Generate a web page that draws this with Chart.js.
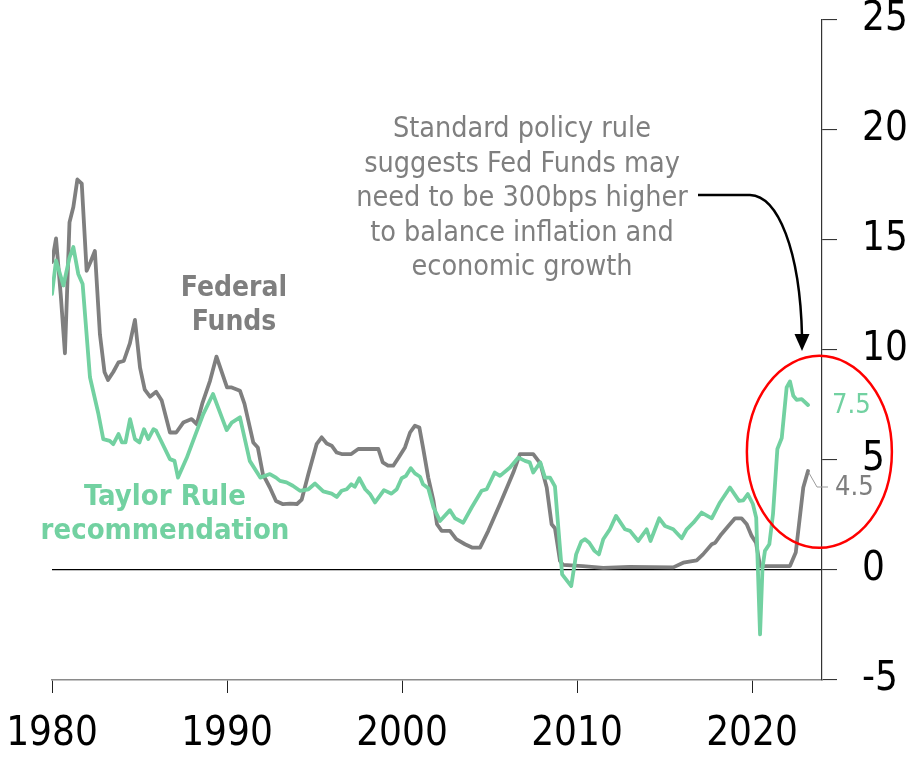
<!DOCTYPE html>
<html>
<head>
<meta charset="utf-8">
<script src="https://cdn.jsdelivr.net/npm/chart.js@4.4.1/dist/chart.umd.min.js"></script>
<style>
  html, body { margin: 0; padding: 0; background: #fff; }
  #wrap { width: 913px; height: 758px; position: relative; }
</style>
</head>
<body>
<div id="wrap"><canvas id="c" width="913" height="758"></canvas></div>
<script>
// Federal Funds effective rate (%), by decimal year
const fedYears = [1980.0, 1980.23, 1980.5, 1980.74, 1981.0, 1981.22, 1981.45, 1981.7, 1981.98, 1982.2,
  1982.45, 1982.74, 1983.0, 1983.2, 1983.5, 1983.8, 1984.1, 1984.45, 1984.74, 1985.03,
  1985.3, 1985.6, 1985.95, 1986.27, 1986.74, 1987.1, 1987.5, 1987.98, 1988.27, 1988.6,
  1989.03, 1989.4, 1990.0, 1990.27, 1990.74, 1991.0, 1991.5, 1991.76, 1992.05, 1992.45,
  1992.8, 1993.2, 1993.6, 1994.0, 1994.27, 1994.65, 1995.12, 1995.41, 1995.7, 1995.98,
  1996.27, 1996.55, 1997.1, 1997.5, 1998.65, 1998.9, 1999.2, 1999.5, 1999.8, 2000.17,
  2000.46, 2000.74, 2000.99, 2001.2, 2001.5, 2001.8, 2002.0, 2002.27, 2002.74, 2003.1,
  2003.6, 2004.0, 2004.46, 2004.93, 2005.6, 2006.36, 2006.74, 2007.5, 2007.9, 2008.27,
  2008.55, 2008.74, 2009.03, 2009.2, 2010.33, 2011.5, 2013.0, 2015.5, 2016.07, 2016.84,
  2017.2, 2017.7, 2017.9, 2018.25, 2018.65, 2019.03, 2019.4, 2019.7, 2019.98, 2020.23,
  2020.46, 2022.17, 2022.5, 2022.93, 2023.2];
const fedRate = [14.0, 15.07, 12.5, 9.85, 15.8, 16.5, 17.75, 17.56, 13.6, 14.0,
  14.5, 10.7, 9.0, 8.64, 9.0, 9.44, 9.5, 10.3, 11.37, 9.2,
  8.2, 7.88, 8.1, 7.7, 6.25, 6.25, 6.7, 6.86, 6.63, 7.6,
  8.6, 9.7, 8.3, 8.3, 8.15, 7.55, 5.8, 5.57, 4.36, 3.75,
  3.14, 2.99, 3.02, 3.0, 3.2, 4.36, 5.72, 6.03, 5.75, 5.65,
  5.34, 5.27, 5.27, 5.5, 5.5, 4.89, 4.74, 4.74, 5.1, 5.57,
  6.25, 6.56, 6.48, 5.57, 4.2, 3.14, 2.08, 1.78, 1.78, 1.4,
  1.17, 1.02, 1.02, 1.78, 3.0, 4.43, 5.27, 5.27, 4.85, 3.75,
  2.08, 1.9, 0.41, 0.23, 0.18, 0.1, 0.14, 0.12, 0.33, 0.44,
  0.71, 1.17, 1.24, 1.63, 2.0, 2.35, 2.35, 2.08, 1.55, 1.24,
  0.18, 0.18, 0.79, 3.75, 4.5];

// Taylor Rule recommended policy rate (%), by decimal year
const taylorYears = [1980.0, 1980.23, 1980.65, 1981.0, 1981.22, 1981.5, 1981.75, 1982.17, 1982.65, 1982.93,
  1983.3, 1983.5, 1983.8, 1984.0, 1984.2, 1984.46, 1984.74, 1985.0, 1985.26, 1985.5,
  1985.8, 1985.95, 1986.74, 1987.0, 1987.2, 1987.7, 1988.17, 1988.65, 1989.2, 1989.98,
  1990.27, 1990.74, 1991.3, 1991.9, 1992.45, 1992.8, 1993.03, 1993.4, 1993.76, 1994.17,
  1994.65, 1995.03, 1995.5, 1995.98, 1996.27, 1996.55, 1996.84, 1997.1, 1997.3, 1997.56,
  1997.9, 1998.17, 1998.46, 1998.97, 1999.4, 1999.7, 1999.98, 2000.23, 2000.5, 2000.74,
  2001.03, 2001.2, 2001.5, 2001.8, 2002.17, 2002.74, 2003.03, 2003.5, 2003.98, 2004.55,
  2004.84, 2005.3, 2005.6, 2006.17, 2006.65, 2007.03, 2007.3, 2007.5, 2007.9, 2008.17,
  2008.46, 2008.74, 2009.15, 2009.67, 2009.95, 2010.24, 2010.46, 2010.7, 2011.0, 2011.25,
  2011.5, 2011.88, 2012.23, 2012.74, 2013.03, 2013.5, 2013.98, 2014.2, 2014.7, 2015.03,
  2015.5, 2015.98, 2016.27, 2016.65, 2017.12, 2017.7, 2018.17, 2018.74, 2019.26, 2019.5,
  2019.76, 2020.05, 2020.24, 2020.46, 2020.6, 2020.74, 2020.99, 2021.2, 2021.45, 2021.7,
  2021.98, 2022.17, 2022.36, 2022.55, 2022.84, 2023.2];
const taylorRate = [12.55, 14.07, 12.93, 14.2, 14.68, 13.46, 13.0, 8.76, 7.1, 5.95,
  5.87, 5.72, 6.18, 5.8, 5.8, 6.86, 5.95, 5.8, 6.4, 5.95,
  6.4, 6.33, 5.04, 4.96, 4.2, 5.1, 6.1, 7.1, 8.0, 6.36,
  6.7, 6.94, 4.96, 4.2, 4.36, 4.2, 4.05, 3.98, 3.83, 3.6,
  3.67, 3.93, 3.57, 3.47, 3.32, 3.6, 3.67, 3.9, 3.78, 4.17,
  3.67, 3.45, 3.07, 3.63, 3.47, 3.67, 4.17, 4.28, 4.63, 4.39,
  4.24, 3.9, 3.72, 2.84, 2.23, 2.72, 2.35, 2.15, 2.84, 3.6,
  3.67, 4.43, 4.28, 4.66, 5.11, 4.96, 4.89, 4.43, 4.89, 4.2,
  4.2, 3.8, -0.2, -0.73, 0.71, 1.29, 1.4, 1.24, 0.87, 0.71,
  1.4, 1.85, 2.46, 1.85, 1.78, 1.32, 1.85, 1.32, 2.35, 2.0,
  1.85, 1.44, 1.85, 2.15, 2.61, 2.35, 3.07, 3.75, 3.14, 3.17,
  3.45, 3.0, 2.38, -2.93, 0.1, 0.87, 1.17, 2.54, 5.5, 6.0,
  8.3, 8.57, 7.92, 7.73, 7.77, 7.5];

const yearTicks = [1980, 1990, 2000, 2010, 2020];
const rateTicks = [-5, 0, 5, 10, 15, 20, 25];

const noteLines = ['Standard policy rule', 'suggests Fed Funds may', 'need to be 300bps higher',
  'to balance inflation and', 'economic growth'];
const fedLabel = ['Federal', 'Funds'];
const taylorLabel = ['Taylor Rule', 'recommendation'];

const GRAY = '#7f7f7f';
const GREEN = '#72d1a1';
const FONT = '"DejaVu Sans Condensed", "DejaVu Sans", sans-serif';

const pts = (xs, ys) => xs.map((x, i) => ({ x: x, y: ys[i] }));

// text, callouts and the highlight ring drawn over the plot
const overlay = {
  id: 'overlay',
  afterDatasetsDraw(chart) {
    const ctx = chart.ctx;
    const xs = chart.scales.x, ys = chart.scales.y;
    ctx.save();
    ctx.textAlign = 'center';
    ctx.textBaseline = 'middle';

    // series names
    ctx.font = 'bold 28px ' + FONT;
    ctx.fillStyle = GRAY;
    ctx.fillText(fedLabel[0], 234, 289);
    ctx.fillText(fedLabel[1], 234, 323);
    ctx.font = 'bold 29px ' + FONT;
    ctx.fillStyle = GREEN;
    ctx.fillText(taylorLabel[0], 165, 497);
    ctx.fillText(taylorLabel[1], 165, 531);

    // explanatory note
    ctx.font = '28.5px ' + FONT;
    ctx.fillStyle = GRAY;
    noteLines.forEach((s, i) => ctx.fillText(s, 522, 130 + i * 34.5));

    // arrow from note to the ring
    ctx.strokeStyle = '#000';
    ctx.lineWidth = 2.5;
    ctx.beginPath();
    ctx.moveTo(698, 195);
    ctx.lineTo(750, 195);
    ctx.bezierCurveTo(778, 196, 800, 250, 802, 336);
    ctx.stroke();
    ctx.fillStyle = '#000';
    ctx.beginPath();
    ctx.moveTo(802, 351);
    ctx.lineTo(794.5, 334);
    ctx.lineTo(809.5, 334);
    ctx.closePath();
    ctx.fill();

    // latest values
    const lastT = taylorRate.length - 1, lastF = fedRate.length - 1;
    const tx = xs.getPixelForValue(taylorYears[lastT]);
    const ty = ys.getPixelForValue(taylorRate[lastT]);
    const fx = xs.getPixelForValue(fedYears[lastF]);
    const fy = ys.getPixelForValue(fedRate[lastF]);
    ctx.font = '27px ' + FONT;
    ctx.textAlign = 'left';
    ctx.fillStyle = GREEN;
    ctx.fillText(taylorRate[lastT].toFixed(1), tx + 24, ty + 1);
    ctx.strokeStyle = '#9a9a9a';
    ctx.lineWidth = 1;
    ctx.beginPath();
    ctx.moveTo(fx + 1, fy + 2);
    ctx.lineTo(fx + 9, fy + 16);
    ctx.lineTo(fx + 20, fy + 16);
    ctx.stroke();
    ctx.fillStyle = GRAY;
    ctx.fillText(fedRate[lastF].toFixed(1), fx + 27, fy + 17);

    // highlight ring around the recent divergence
    const cx = xs.getPixelForValue(2023.85), cy = ys.getPixelForValue(5.37);
    ctx.strokeStyle = '#ff0000';
    ctx.lineWidth = 2.5;
    ctx.beginPath();
    ctx.ellipse(cx, cy, 72.5, 96, 0, 0, Math.PI * 2);
    ctx.stroke();
    ctx.restore();
  }
};

new Chart(document.getElementById('c'), {
  type: 'line',
  data: {
    datasets: [
      { label: 'Taylor Rule recommendation', data: pts(taylorYears, taylorRate),
        borderColor: GREEN, borderWidth: 3.8, pointRadius: 0, tension: 0,
        borderJoinStyle: 'round', borderCapStyle: 'round', fill: false },
      { label: 'Federal Funds', data: pts(fedYears, fedRate),
        borderColor: GRAY, borderWidth: 3.8, pointRadius: 0, tension: 0,
        borderJoinStyle: 'round', borderCapStyle: 'round', fill: false }
    ]
  },
  options: {
    responsive: false,
    animation: false,
    devicePixelRatio: 1,
    layout: { padding: { left: 52, top: 20, right: 0, bottom: 0 } },
    plugins: { legend: { display: false }, tooltip: { enabled: false } },
    scales: {
      x: {
        type: 'linear', position: 'bottom', min: 1980, max: 2024,
        afterBuildTicks: s => { s.ticks = yearTicks.map(v => ({ value: v })); },
        afterFit: s => { s.height = 78; s.paddingLeft = 0; s.paddingRight = 0; },
        ticks: { callback: v => String(v), color: '#000', padding: 22,
          font: { family: FONT, size: 40, lineHeight: 1.0 }, maxRotation: 0, autoSkip: false },
        grid: { drawOnChartArea: false, drawTicks: true, tickLength: 13, tickColor: '#222', tickWidth: 1 },
        border: { color: '#8a8a8a', width: 1.5 }
      },
      y: {
        type: 'linear', position: 'right', min: -5, max: 25,
        afterBuildTicks: s => { s.ticks = rateTicks.map(v => ({ value: v })); },
        afterFit: s => { s.width = 91; s.paddingTop = 0; s.paddingBottom = 0; },
        ticks: { callback: v => String(v), color: '#000', padding: 25,
          font: { family: FONT, size: 40, lineHeight: 1.0 } },
        grid: { drawOnChartArea: true, drawTicks: true, tickLength: 15,
          color: c => (c.tick && c.tick.value === 0) ? '#000' : 'rgba(0,0,0,0)',
          lineWidth: 1.2, tickColor: '#222', tickWidth: 1 },
        border: { color: '#333', width: 1.2 }
      }
    }
  },
  plugins: [overlay]
});
</script>
</body>
</html>
